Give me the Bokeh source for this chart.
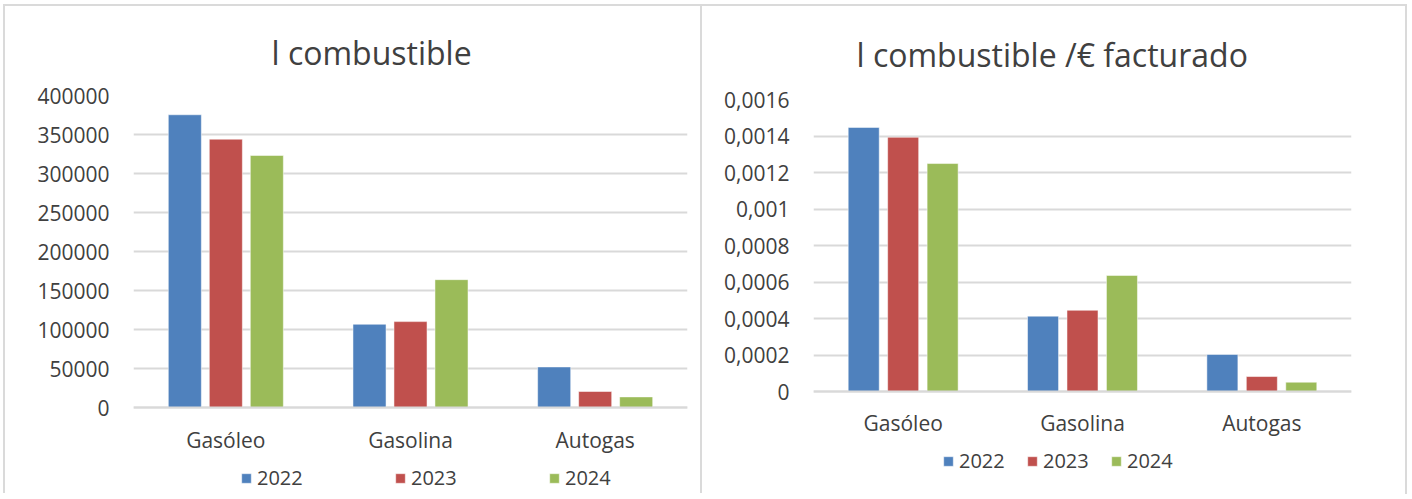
from bokeh.plotting import figure
from bokeh.models import FactorRange, Range1d, FixedTicker, Legend, LegendItem, ColumnDataSource
from bokeh.transform import dodge
from bokeh.layouts import row, column
from bokeh.embed import file_html
from bokeh.resources import INLINE

# ---------------- data ----------------
categories = ["Gasóleo", "Gasolina", "Autogas"]
years = ["2022", "2023", "2024"]
colors = ["#4F81BD", "#C0504D", "#9BBB59"]

litres_2022 = [375300, 106700, 52000]
litres_2023 = [344000, 110100, 20500]
litres_2024 = [323100, 163900, 13600]

ratio_2022 = [0.001447, 0.000413, 0.000203]
ratio_2023 = [0.001393, 0.000445, 0.000082]
ratio_2024 = [0.001249, 0.000636, 0.000051]

left_ticks = [0, 50000, 100000, 150000, 200000, 250000, 300000, 350000, 400000]
left_tick_labels = ["0", "50000", "100000", "150000", "200000", "250000", "300000", "350000", "400000"]
right_ticks = [0, 0.0002, 0.0004, 0.0006, 0.0008, 0.001, 0.0012, 0.0014, 0.0016]
right_tick_labels = ["0", "0,0002", "0,0004", "0,0006", "0,0008", "0,001", "0,0012", "0,0014", "0,0016"]

left_title = "l combustible"
right_title = "l combustible /€ facturado"

FONT = "Open Sans"
TEXT = "#404040"
GRID = "#d9d9d9"
BORDER = "2px solid #dadada"


def make_panel(title, series, ticks, tick_labels, mb, frame_w, plot_h, extra_h,
               bar_w, bar_off, title_offset, title_standoff, xlabel_standoff,
               legend_loc, legend_spacing):
    src = ColumnDataSource(dict(cat=categories, s0=series[0], s1=series[1], s2=series[2]))
    ymax = ticks[-1]
    # the frame extends below zero to host the legend under the category labels
    ymin = -ymax * extra_h / plot_h
    p = figure(x_range=FactorRange(factors=categories, range_padding=0),
               y_range=Range1d(ymin, ymax),
               frame_width=frame_w, frame_height=plot_h + extra_h,
               min_border_left=mb[0], min_border_right=mb[1],
               min_border_top=mb[2], min_border_bottom=mb[3],
               output_backend="svg", toolbar_location=None)
    p.outline_line_color = None
    p.background_fill_color = "white"
    p.border_fill_color = "white"

    renderers = []
    for i, key in enumerate(["s0", "s1", "s2"]):
        off = (i - 1) * bar_off
        r = p.vbar(x=dodge("cat", off, range=p.x_range), top=key, width=bar_w, bottom=0,
                   source=src, fill_color=colors[i], line_color="white", line_alpha=0.5,
                   line_width=1)
        renderers.append(r)

    # title
    p.title.text = title
    p.title.text_font = FONT
    p.title.text_font_size = "32px"
    p.title.text_font_style = "normal"
    p.title.text_color = TEXT
    p.title.align = "left"
    p.title.offset = title_offset
    p.title.standoff = title_standoff

    # y axis
    p.yaxis.ticker = FixedTicker(ticks=ticks)
    p.yaxis.major_label_overrides = {t: l for t, l in zip(ticks, tick_labels)}
    p.yaxis.axis_line_color = None
    p.yaxis.major_tick_line_color = None
    p.yaxis.minor_tick_line_color = None
    p.yaxis.major_tick_out = 0
    p.yaxis.major_tick_in = 0
    p.yaxis.major_label_text_font = FONT
    p.yaxis.major_label_text_font_size = "21px"
    p.yaxis.major_label_text_color = TEXT
    p.yaxis.major_label_standoff = 24

    # x axis, sitting on the zero line
    p.xaxis.fixed_location = 0
    p.xaxis.axis_line_color = GRID
    p.xaxis.axis_line_width = 2
    p.xaxis.major_tick_line_color = None
    p.xaxis.minor_tick_line_color = None
    p.xaxis.major_tick_out = 0
    p.xaxis.major_tick_in = 0
    p.xaxis.major_label_text_font = FONT
    p.xaxis.major_label_text_font_size = "21px"
    p.xaxis.major_label_text_color = TEXT
    p.xaxis.major_label_standoff = xlabel_standoff

    p.xgrid.grid_line_color = None
    p.ygrid.grid_line_color = GRID
    p.ygrid.grid_line_width = 2

    legend = Legend(items=[LegendItem(label=y, renderers=[r]) for y, r in zip(years, renderers)],
                    orientation="horizontal", location=legend_loc,
                    glyph_width=12, glyph_height=12, label_standoff=5, label_width=50,
                    spacing=legend_spacing, padding=0, margin=0,
                    border_line_color=None, background_fill_alpha=0,
                    label_text_font=FONT, label_text_font_size="20px", label_text_color=TEXT)
    p.add_layout(legend, "center")
    return p


left = make_panel(left_title, [litres_2022, litres_2023, litres_2024], left_ticks, left_tick_labels,
                  mb=(128, 13, 89, 0), frame_w=554, plot_h=312, extra_h=86,
                  bar_w=0.179, bar_off=0.222, title_offset=138, title_standoff=43,
                  xlabel_standoff=18, legend_loc=(107, 2), legend_spacing=87)

right = make_panel(right_title, [ratio_2022, ratio_2023, ratio_2024], right_ticks, right_tick_labels,
                   mb=(111, 54, 92, 0), frame_w=538, plot_h=292, extra_h=103,
                   bar_w=0.173, bar_off=0.22, title_offset=43, title_standoff=48,
                   xlabel_standoff=17, legend_loc=(129, 20), legend_spacing=17)

left_box = column(left, styles={"border-top": BORDER, "border-left": BORDER, "border-right": BORDER})
right_box = column(right, styles={"border-top": BORDER, "border-right": BORDER})
layout = row(left_box, right_box, spacing=0, styles={"margin-left": "3px", "margin-top": "4px"})

open("out.html", "w").write(file_html(layout, INLINE))
